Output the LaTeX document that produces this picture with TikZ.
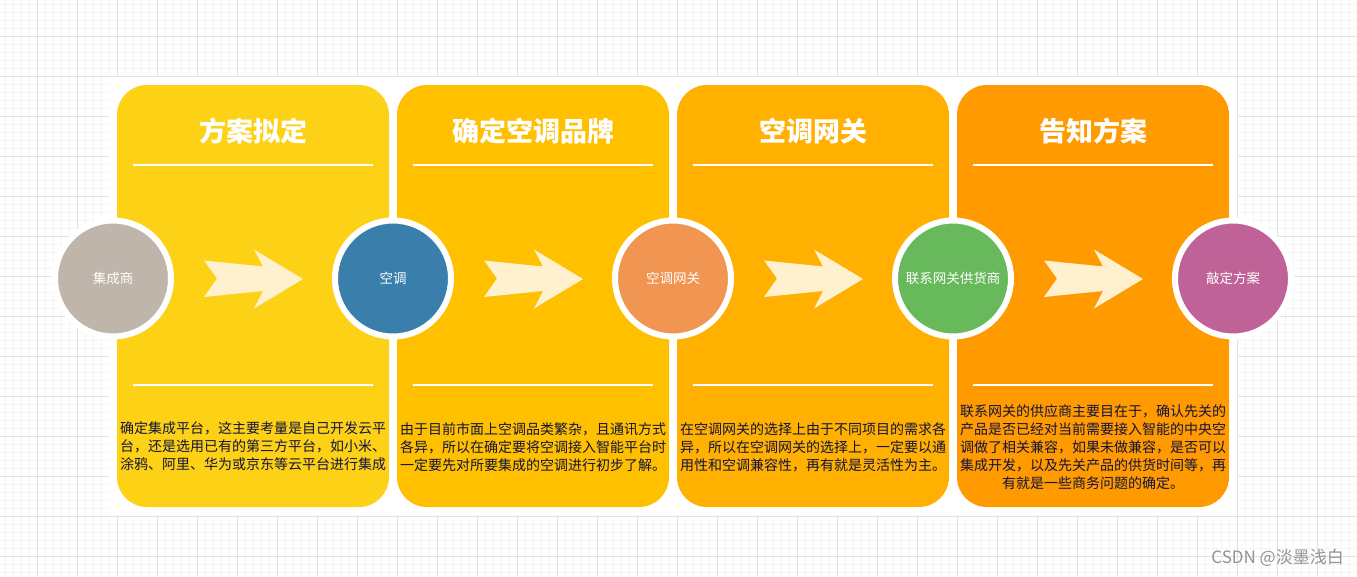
\documentclass[tikz,border=0pt]{standalone}
\usepackage{fontspec}
\setmainfont{Noto Sans CJK SC}
\definecolor{boxA}{HTML}{FDD116}
\definecolor{boxB}{HTML}{FFC000}
\definecolor{boxC}{HTML}{FFB000}
\definecolor{boxD}{HTML}{FF9A00}
\definecolor{cirA}{HTML}{BFB5AA}
\definecolor{cirB}{HTML}{3A7EAB}
\definecolor{cirC}{HTML}{F09552}
\definecolor{cirD}{HTML}{68B85C}
\definecolor{cirE}{HTML}{BF6298}
\definecolor{arrowc}{HTML}{FFF0CE}
\definecolor{bodytxt}{HTML}{14143C}
\definecolor{gridmin}{HTML}{F5F5F5}
\definecolor{gridmaj}{HTML}{E2E2E2}
\tikzset{
  panel/.style={rectangle, rounded corners=30pt, minimum width=272pt, minimum height=422pt, inner sep=0pt, draw=none},
  ttl/.style={text=white, font=\fontsize{27}{30}\selectfont\bfseries, inner sep=0pt},
  sepline/.style={draw=white, line width=2pt},
  disc/.style={circle, minimum size=116pt, inner sep=0pt, draw=white, line width=6pt, text=white, font=\fontsize{13.5}{16}\selectfont},
  bodytext/.style={text=bodytxt, align=center, inner sep=0pt, font=\fontsize{14}{18}\selectfont},
  fatarrow/.style={fill=arrowc, draw=none}
}
\begin{document}
\begin{tikzpicture}[x=1pt,y=-1pt]
\useasboundingbox (0,0) rectangle (1357,576);
\fill[white] (0,0) rectangle (1357,576);
% grid
\foreach \k in {0,...,169} \draw[gridmin, line width=0.7pt] (5.7+8*\k,0) -- (5.7+8*\k,576);
\foreach \k in {0,...,72} \draw[gridmin, line width=0.7pt] (0,4.7+8*\k) -- (1357,4.7+8*\k);
\foreach \k in {0,...,33} \draw[gridmaj, line width=1pt] (37.7+40*\k,0) -- (37.7+40*\k,576);
\foreach \k in {0,...,14} \draw[gridmaj, line width=1pt] (0,36.7+40*\k) -- (1357,36.7+40*\k);
% white backing
\fill[white] (109,77) rectangle (1237,515);
% panels
\node[panel, fill=boxA] (b1) at (253,296) {};
\node[panel, fill=boxB] (b2) at (533,296) {};
\node[panel, fill=boxC] (b3) at (813,296) {};
\node[panel, fill=boxD] (b4) at (1093,296) {};
\foreach \i in {1,...,4} {
  \draw[sepline] ([xshift=16pt,yshift=-80pt]b\i.north west) -- ([xshift=-16pt,yshift=-80pt]b\i.north east);
  \draw[sepline] ([xshift=16pt,yshift=-300pt]b\i.north west) -- ([xshift=-16pt,yshift=-300pt]b\i.north east);
}
% titles
\node[ttl] (t1) at (253,131) {方案拟定};
\node[ttl] (t2) at (533,131) {确定空调品牌};
\node[ttl] (t3) at (813,131) {空调网关};
\node[ttl] (t4) at (1093,131) {告知方案};
% circles
\node[disc, fill=cirA] (c1) at (113,278.5) {集成商};
\node[disc, fill=cirB] (c2) at (393,278.5) {空调};
\node[disc, fill=cirC] (c3) at (673,278.5) {空调网关};
\node[disc, fill=cirD] (c4) at (953,278.5) {联系网关供货商};
\node[disc, fill=cirE] (c5) at (1233,278.5) {敲定方案};
% arrows
\foreach \i in {1,...,4} {
  \fill[fatarrow, shift={(c\i.center)}] (91,-18) -- (104,0) -- (91,18.5) -- (150,12.5) -- (141,30) -- (190,0.5) -- (141,-29) -- (150,-12) -- cycle;
}
% body texts
\node[bodytext] (d1) at (253,446) {确定集成平台，这主要考量是自己开发云平\\台，还是选用已有的第三方平台，如小米、\\涂鸦、阿里、华为或京东等云平台进行集成};
\node[bodytext] (d2) at (533,447) {由于目前市面上空调品类繁杂，且通讯方式\\各异，所以在确定要将空调接入智能平台时\\一定要先对所要集成的空调进行初步了解。};
\node[bodytext] (d3) at (813,447) {在空调网关的选择上由于不同项目的需求各\\异，所以在空调网关的选择上，一定要以通\\用性和空调兼容性，再有就是灵活性为主。};
\node[bodytext] (d4) at (1093,447) {联系网关的供应商主要目在于，确认先关的\\产品是否已经对当前需要接入智能的中央空\\调做了相关兼容，如果未做兼容，是否可以\\集成开发，以及先关产品的供货时间等，再\\有就是一些商务问题的确定。};
% watermark
\node[anchor=east, text=gray!85, inner sep=0pt, font=\fontsize{17}{19}\selectfont] (wm) at (1344,558) {CSDN @淡墨浅白};
\end{tikzpicture}
\end{document}
